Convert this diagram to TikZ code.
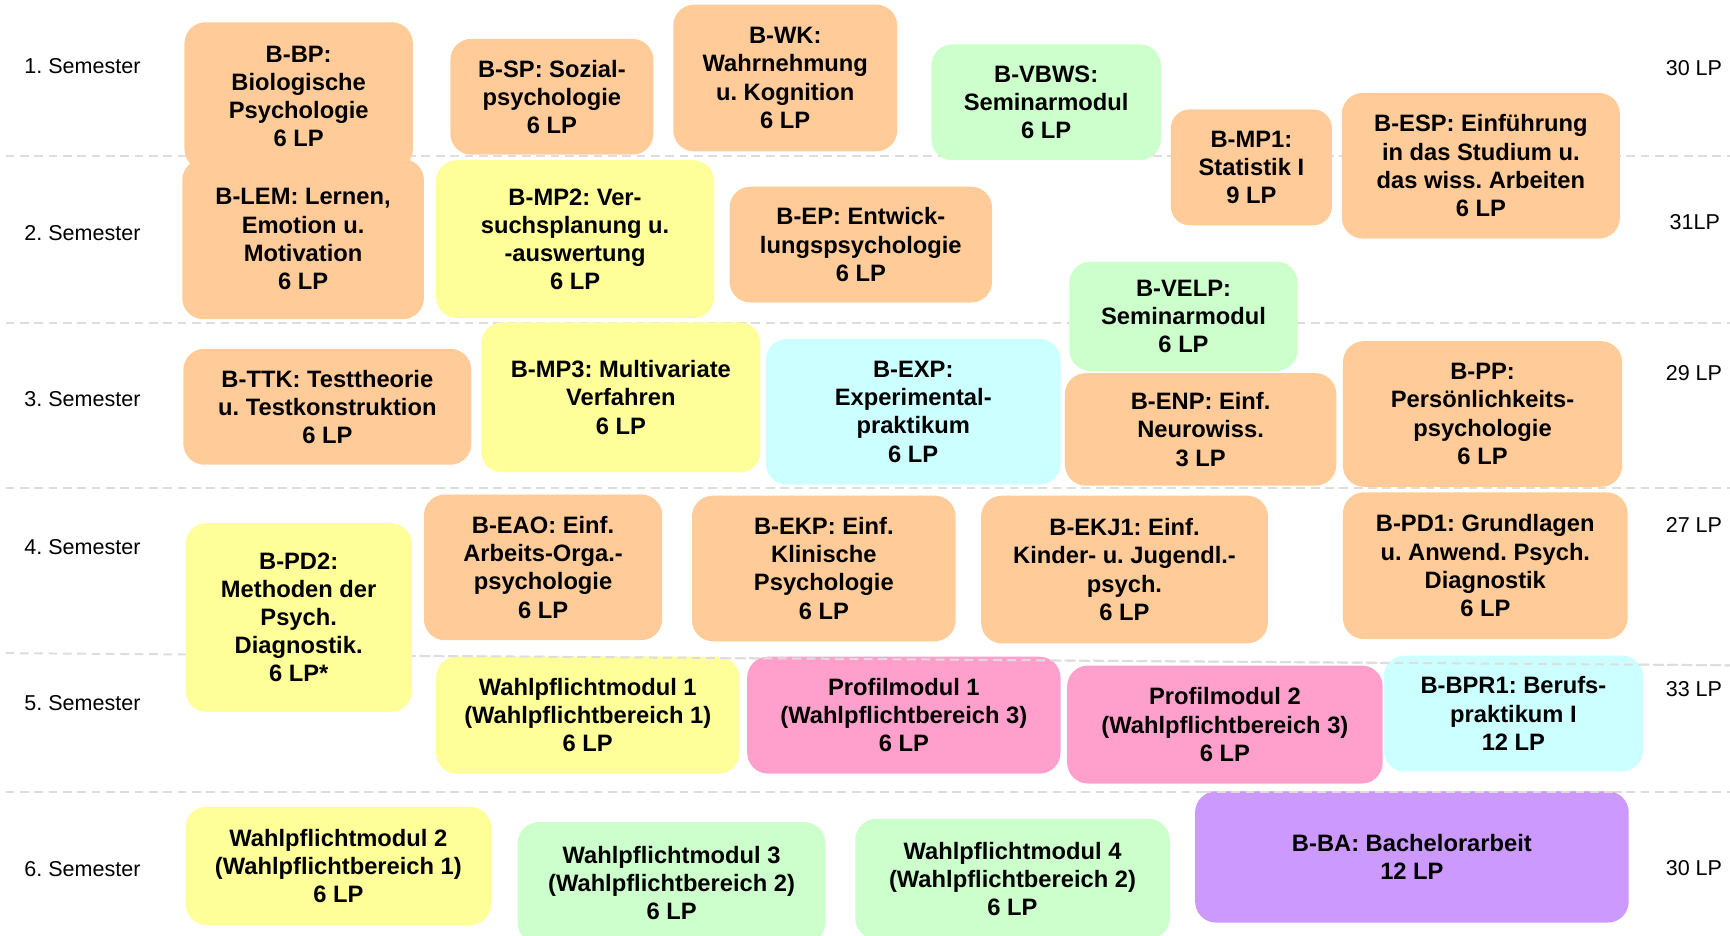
\documentclass[tikz,border=0pt]{standalone}
\usepackage{fontspec}
\setmainfont{Liberation Sans}
\frenchspacing
\definecolor{orng}{HTML}{FFCC99}
\definecolor{yell}{HTML}{FFFF99}
\definecolor{grn}{HTML}{CCFFCC}
\definecolor{cyn}{HTML}{CCFFFF}
\definecolor{pnk}{HTML}{FFA0CC}
\definecolor{purp}{HTML}{CC99FF}
\definecolor{sepgray}{HTML}{DDDDDD}
\begin{document}
\begin{tikzpicture}[x=1pt,y=1pt,
  mbox/.style={rounded corners=19pt, align=center, inner sep=0pt, anchor=north west,
    font=\frenchspacing\bfseries\fontsize{21.5}{25.5}\selectfont},
  semlab/.style={anchor=west, inner sep=0pt, font=\frenchspacing\fontsize{19.5}{22}\selectfont},
  lplab/.style={anchor=east, inner sep=0pt, font=\fontsize{19.5}{22}\selectfont},
  sepline/.style={draw=sepgray, line width=1.8pt, dash pattern=on 8pt off 5pt}]
\useasboundingbox (0,0) rectangle (1568,-848);
% separators behind boxes
\coordinate (s1a) at (5,-141.5); \coordinate (s1b) at (1568,-141.5);
\coordinate (s2a) at (5,-293); \coordinate (s2b) at (1568,-293);
\coordinate (s3a) at (5,-442); \coordinate (s3b) at (1568,-442);
\coordinate (s4a) at (5,-592); \coordinate (s4b) at (1568,-603);
\coordinate (s5a) at (5,-718); \coordinate (s5b) at (1568,-718);
\draw[sepline] (s1a) -- (s1b);
\draw[sepline] (s2a) -- (s2b);
\draw[sepline] (s3a) -- (s3b);
\draw[sepline] (s4a) -- (s4b);
\draw[sepline] (s5a) -- (s5b);
% semester labels
\node[semlab] (sem1) at (22,-60) {1. Semester};
\node[semlab] (sem2) at (22,-211) {2. Semester};
\node[semlab] (sem3) at (22,-362) {3. Semester};
\node[semlab] (sem4) at (22,-496) {4. Semester};
\node[semlab] (sem5) at (22,-637) {5. Semester};
\node[semlab] (sem6) at (22,-788) {6. Semester};
% LP labels
\node[lplab] (lp1) at (1561,-62) {30 LP};
\node[lplab] (lp2) at (1559,-201) {31LP};
\node[lplab] (lp3) at (1561,-338) {29 LP};
\node[lplab] (lp4) at (1561,-476) {27 LP};
\node[lplab] (lp5) at (1561,-625) {33 LP};
\node[lplab] (lp6) at (1561,-787) {30 LP};
% row 1
\node[mbox, fill=orng, minimum width=207pt, minimum height=134pt] (bbp) at (167,-20) {B-BP:\\Biologische\\Psychologie\\6 LP};
\node[mbox, fill=orng, minimum width=184pt, minimum height=105pt] (bsp) at (408,-35) {B-SP: Sozial-\\psychologie\\6 LP};
\node[mbox, fill=orng, minimum width=203pt, minimum height=133pt] (bwk) at (610,-4) {B-WK:\\Wahrnehmung\\u. Kognition\\6 LP};
\node[mbox, fill=grn, minimum width=208pt, minimum height=105pt] (bvbws) at (844,-40) {B-VBWS:\\Seminarmodul\\6 LP};
\node[mbox, fill=orng, minimum width=146pt, minimum height=105pt, rounded corners=17pt] (bmp1) at (1061,-99) {B-MP1:\\Statistik I\\9 LP};
\node[mbox, fill=orng, minimum width=252pt, minimum height=132pt] (besp) at (1216,-84) {B-ESP: Einführung\\in das Studium u.\\das wiss. Arbeiten\\6 LP};
% row 2
\node[mbox, fill=orng, minimum width=219pt, minimum height=145pt] (blem) at (165,-144) {B-LEM: Lernen,\\Emotion u.\\Motivation\\6 LP};
\node[mbox, fill=yell, minimum width=252pt, minimum height=143pt] (bmp2) at (395,-145) {B-MP2: Ver-\\suchsplanung u.\\-auswertung\\6 LP};
\node[mbox, fill=orng, minimum width=238pt, minimum height=105pt] (bep) at (661,-169) {B-EP: Entwick-\\lungspsychologie\\6 LP};
\node[mbox, fill=grn, minimum width=207pt, minimum height=99pt] (bvelp) at (969,-237) {B-VELP:\\Seminarmodul\\6 LP};
% row 3
\node[mbox, fill=orng, minimum width=261pt, minimum height=105pt] (bttk) at (166,-316) {B-TTK: Testtheorie\\u. Testkonstruktion\\6 LP};
\node[mbox, fill=yell, minimum width=253pt, minimum height=136pt] (bmp3) at (436,-292) {B-MP3: Multivariate\\Verfahren\\6 LP};
\node[mbox, fill=cyn, minimum width=267pt, minimum height=132pt] (bexp) at (694,-307) {B-EXP:\\Experimental-\\praktikum\\6 LP};
\node[mbox, fill=orng, minimum width=246pt, minimum height=102pt] (benp) at (965,-338) {B-ENP: Einf.\\Neurowiss.\\3 LP};
\node[mbox, fill=orng, minimum width=253pt, minimum height=132pt] (bpp) at (1217,-309) {B-PP:\\Persönlichkeits-\\psychologie\\6 LP};
% row 4
\node[mbox, fill=yell, minimum width=205pt, minimum height=171pt] (bpd2) at (168,-474) {B-PD2:\\Methoden der\\Psych.\\Diagnostik.\\6 LP*};
\node[mbox, fill=orng, minimum width=216pt, minimum height=132pt] (beao) at (384,-448) {B-EAO: Einf.\\Arbeits-Orga.-\\psychologie\\6 LP};
\node[mbox, fill=orng, minimum width=239pt, minimum height=132pt] (bekp) at (627,-449) {B-EKP: Einf.\\Klinische\\Psychologie\\6 LP};
\node[mbox, fill=orng, minimum width=260pt, minimum height=134pt] (bekj) at (889,-449) {B-EKJ1: Einf.\\Kinder- u. Jugendl.-\\psych.\\6 LP};
\node[mbox, fill=orng, minimum width=258pt, minimum height=133pt] (bpd1) at (1217,-446) {B-PD1: Grundlagen\\u. Anwend. Psych.\\Diagnostik\\6 LP};
% row 5
\node[mbox, fill=yell, minimum width=275pt, minimum height=106pt] (wpm1) at (395,-595) {Wahlpflichtmodul 1\\(Wahlpflichtbereich 1)\\6 LP};
\node[mbox, fill=pnk, minimum width=284pt, minimum height=106pt] (prof1) at (677,-595) {Profilmodul 1\\(Wahlpflichtbereich 3)\\6 LP};
\node[mbox, fill=pnk, minimum width=286pt, minimum height=107pt] (prof2) at (967,-603) {Profilmodul 2\\(Wahlpflichtbereich 3)\\6 LP};
\node[mbox, fill=cyn, minimum width=235pt, minimum height=105pt] (bbpr) at (1254,-594) {B-BPR1: Berufs-\\praktikum I\\12 LP};
% row 6
\node[mbox, fill=yell, minimum width=277pt, minimum height=107pt] (wpm2) at (168,-731) {Wahlpflichtmodul 2\\(Wahlpflichtbereich 1)\\6 LP};
\node[mbox, fill=grn, minimum width=279pt, minimum height=110pt] (wpm3) at (469,-745) {Wahlpflichtmodul 3\\(Wahlpflichtbereich 2)\\6 LP};
\node[mbox, fill=grn, minimum width=285pt, minimum height=109pt] (wpm4) at (775,-742) {Wahlpflichtmodul 4\\(Wahlpflichtbereich 2)\\6 LP};
\node[mbox, fill=purp, minimum width=393pt, minimum height=119pt] (bba) at (1083,-717) {B-BA: Bachelorarbeit\\12 LP};
% separator parts that lie over box tops
\coordinate (s4c) at (380,-594.4); \coordinate (s4d) at (1568,-603);
\draw[sepline] (s4c) -- (s4d);
\coordinate (s5c) at (1090,-718); \coordinate (s5d) at (1470,-718);
\draw[sepline] (s5c) -- (s5d);
\end{tikzpicture}
\end{document}
